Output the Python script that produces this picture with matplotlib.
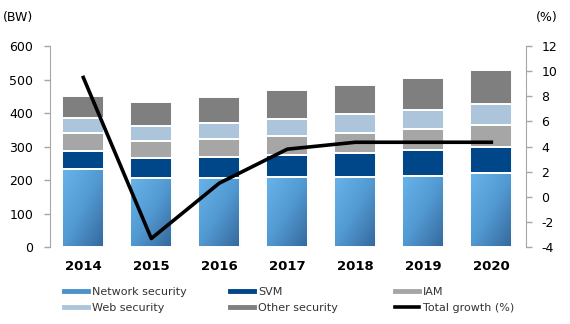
import matplotlib
matplotlib.use("Agg")
import matplotlib.pyplot as plt
from matplotlib.colors import LinearSegmentedColormap
from matplotlib.lines import Line2D
import numpy as np

plt.rcParams['font.family'] = ['DejaVu Sans']
plt.rcParams['axes.unicode_minus'] = False

# market size by segment (BW) and total growth (%)
years = ['2014', '2015', '2016', '2017', '2018', '2019', '2020']
network = [234, 208, 208, 210, 210, 214, 220]
svm = [54, 58, 60, 65, 71, 76, 79]
iam = [52, 51, 54, 58, 61, 64, 66]
web = [44, 44, 49, 50, 54, 54, 61]
other = [68, 72, 77, 86, 88, 97, 102]
growth = [9.5, -3.3, 1.1, 3.8, 4.35, 4.35, 4.35]

names = ['Network security', 'SVM', 'IAM', 'Web security', 'Other security']
colors = ['#4B92CB', '#00478A', '#A6A6A6', '#ADC5DA', '#7F7F7F']

fig = plt.figure(figsize=(5.7, 3.24), dpi=100)
ax = fig.add_axes([0.0877, 0.2367, 0.9228 - 0.0877, 0.858 - 0.2367])

x = np.arange(len(years))
w = 0.62
bottom = np.zeros(len(years))
segs = [network, svm, iam, web, other]
containers = []
for vals, col in zip(segs, colors):
    bc = ax.bar(x, vals, w, bottom=bottom, color=col, edgecolor='white',
                linewidth=1.4, zorder=2)
    containers.append(bc)
    bottom = bottom + np.array(vals)

# diagonal shading on the network security bars
cmap = LinearSegmentedColormap.from_list('net', ['#68B4EA', '#5299D2', '#34679A'])
grad = np.add.outer(np.linspace(0, 1, 80), np.linspace(0, 1, 40)) / 2
for patch, v, xi in zip(containers[0].patches, network, x):
    im = ax.imshow(grad, cmap=cmap, extent=(xi - w / 2, xi + w / 2, 0, v),
                   origin='upper', aspect='auto', zorder=2.5, interpolation='bilinear')
    im.set_clip_path(patch)
ax.bar(x, network, w, color='none', edgecolor='white', linewidth=1.4, zorder=3)

ax.set_xlim(-0.49, 6.51)
ax.set_ylim(0, 600)
ax.set_yticks(range(0, 601, 100))
ax.set_xticks(x)
ax.set_xticklabels(years, fontsize=9.5, fontweight='bold')
ax.tick_params(axis='x', length=0, pad=9)
ax.tick_params(axis='y', length=4, width=1, color='#A6A6A6', pad=8, labelsize=9)
for s in ['top', 'right', 'bottom']:
    ax.spines[s].set_visible(False)
ax.spines['left'].set_color('#A6A6A6')

ax2 = ax.twinx()
ax2.plot(x, growth, color='black', lw=2.6, zorder=5)
ax2.set_ylim(-4, 12)
ax2.set_yticks(range(-4, 13, 2))
ax2.tick_params(axis='y', length=4, width=1, color='#A6A6A6', pad=7, labelsize=9)
for s in ['top', 'left', 'bottom']:
    ax2.spines[s].set_visible(False)
ax2.spines['right'].set_color('#A6A6A6')

fig.text(18 / 570, 1 - 17 / 324, '(BW)', ha='center', va='center', fontsize=9)
fig.text(547 / 570, 1 - 17 / 324, '(%)', ha='center', va='center', fontsize=9)

# legend in three fixed columns
handles = [Line2D([], [], color=c, lw=3.5) for c in colors]
handles.append(Line2D([], [], color='black', lw=2.6))
labels = names + ['Total growth (%)']
cols = [(0, 3), (1, 4), (2, 5)]
xs = [64, 230, 395]
for (i, j), xp in zip(cols, xs):
    fig.legend([handles[i], handles[j]], [labels[i], labels[j]], loc='upper left',
               bbox_to_anchor=(xp / 570, 1 - 287 / 324), frameon=False,
               borderpad=0, borderaxespad=0, handlelength=2.2, handletextpad=0.3,
               labelspacing=0.55, fontsize=8, labelcolor='#333333')

fig.savefig('out.png', dpi=100)
